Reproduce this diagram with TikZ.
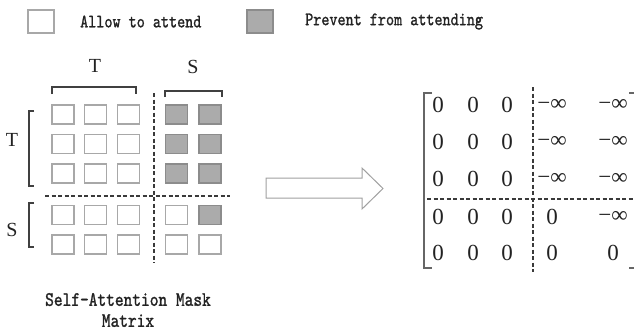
\documentclass[tikz,border=0pt]{standalone}
\usepackage{fontspec}
\setmainfont{Liberation Serif}
\newfontfamily\labelmono[Extension=.otf,FakeStretch=0.81,FakeBold=1.2]{lmmono10-regular}
\newfontfamily\captionmono[Extension=.otf,FakeStretch=0.81,FakeBold=1.2]{lmmono10-regular}
\definecolor{cellline}{HTML}{A8A8A8}
\definecolor{maskfill}{HTML}{ABABAB}
\definecolor{maskline}{HTML}{8C8C8C}
\definecolor{bracketcol}{HTML}{404040}
\definecolor{divcol}{HTML}{3A3A3A}
\definecolor{arrowline}{HTML}{A0A0A0}
\definecolor{entrycol}{HTML}{222222}
\tikzset{
  cellopen/.style={draw=cellline, line width=1.3pt, fill=white,
    minimum width=22pt, minimum height=19pt, inner sep=0pt},
  cellshut/.style={cellopen, fill=maskfill, draw=maskline},
  brace/.style={draw=bracketcol, line width=1.6pt},
  divider/.style={draw=divcol, line width=1.4pt, dash pattern=on 4pt off 2.5pt},
  legendtext/.style={anchor=west, inner sep=0pt, text=entrycol,
    font=\labelmono\fontsize{19}{20}\selectfont},
  captiontext/.style={align=center, inner sep=0pt, text=entrycol,
    font=\captionmono\fontsize{20.5}{21}\selectfont},
  axislabel/.style={inner sep=0pt, text=entrycol, font=\fontsize{20}{21}\selectfont},
  entry/.style={inner sep=0pt, text=entrycol, font=\fontsize{23}{24}\selectfont},
  matbrace/.style={draw=bracketcol!80, line width=1.4pt},
}
\begin{document}
\begin{tikzpicture}[x=1pt,y=-1pt]
\useasboundingbox (0,0) rectangle (634,332);

% legend
\node[cellopen, minimum width=26pt, minimum height=23pt] (keyopen) at (41,21.5) {};
\node[legendtext] (keyopentext) at (80,21.5) {Allow to attend};
\node[cellshut, minimum width=26pt, minimum height=23pt] (keyshut) at (260,21.5) {};
\node[legendtext] (keyshuttext) at (305,21.5) {Prevent from attending};

% grid of attention cells
\foreach \r/\y in {1/114.5,2/144,3/173.5,4/215,5/244.5}
  \foreach \c/\x in {1/63,2/95.5,3/128.5,4/176.5,5/210}
    \node[cellopen] (cell-\r-\c) at (\x,\y) {};
\foreach \r/\c in {1/4,1/5,2/4,2/5,3/4,3/5,4/5}
  \node[cellshut] at (cell-\r-\c) {};

% block dividers
\coordinate (hdivL) at (45,196);
\coordinate (hdivR) at (230,196);
\coordinate (vdivT) at (154,93);
\coordinate (vdivB) at (154,263);
\draw[divider] (hdivL) -- (hdivR);
\draw[divider] (vdivT) -- (vdivB);

% brackets and axis labels
\draw[brace] (52,94) -- (52,87) -- (136,87) -- (136,94);
\draw[brace] (165,97) -- (165,91) -- (222,91) -- (222,97);
\draw[brace] (34,111) -- (29,111) -- (29,186) -- (34,186);
\draw[brace] (34,203) -- (29,203) -- (29,247) -- (34,247);
\node[axislabel] (topT) at (95,66) {T};
\node[axislabel] (topS) at (193,67) {S};
\node[axislabel] (leftT) at (12,140) {T};
\node[axislabel] (leftS) at (12,230) {S};

% caption
\node[captiontext] (caption) at (128,310) {Self-Attention Mask\\Matrix};

% block arrow
\draw[draw=arrowline, line width=1pt, line join=miter]
  (266,178) -- (362,178) -- (362,168) -- (383,188.5) -- (362,209) -- (362,198) -- (266,198) -- cycle;

% mask matrix entries
\foreach \r/\y/\ed/\ee in {1/105/{−∞}/{−∞},2/142/{−∞}/{−∞},3/179/{−∞}/{−∞},4/217/{0}/{−∞},5/253/{0}/{0}} {
  \foreach \c/\x in {1/438,2/473,3/507}
    \node[entry] (m-\r-\c) at (\x,\y) {0};
  \node[entry] (m-\r-4) at (552,\y) {\ed};
  \node[entry] (m-\r-5) at (613,\y) {\ee};
}

% matrix brackets and dividers
\draw[matbrace] (432,93) -- (424,93) -- (424,268) -- (432,268);
\draw[matbrace] (629,93) -- (636,93) -- (636,268) -- (629,268);
\coordinate (mvT) at (533,87);
\coordinate (mvB) at (533,272);
\coordinate (mhL) at (427,199);
\coordinate (mhR) at (634,199);
\draw[divider] (mvT) -- (mvB);
\draw[divider] (mhL) -- (mhR);
\end{tikzpicture}
\end{document}
